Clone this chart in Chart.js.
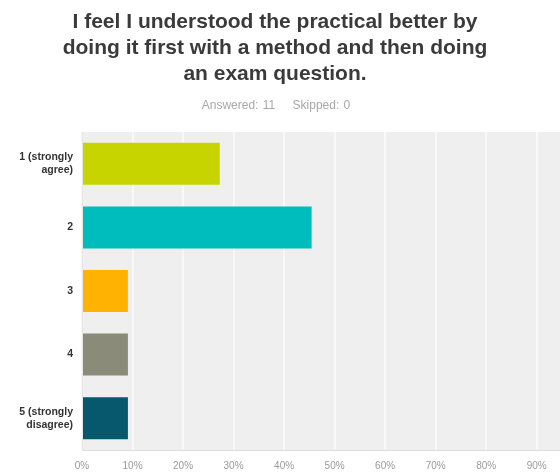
<!DOCTYPE html>
<html>
<head>
<meta charset="utf-8">
<script src="https://cdn.jsdelivr.net/npm/chart.js@4/dist/chart.umd.min.js"></script>
<style>
  html, body { margin: 0; padding: 0; background: #fff; overflow: hidden; width: 560px; height: 475px; }
  #wrap { position: relative; width: 560px; height: 475px; overflow: hidden; }
  #title {
    position: absolute; left: 0; top: 8px; width: 550px; text-align: center;
    font: bold 21px "Liberation Sans", Arial, sans-serif; line-height: 26px; color: #3a3a3a;
  }
  #sub {
    position: absolute; left: 0; top: 98px; width: 552px; text-align: center;
    font: 12px "Liberation Sans", Arial, sans-serif; color: #a8a8a8; word-spacing: 1px;
  }
  #box { position: absolute; left: 0; top: 0; width: 610px; height: 486px; }
</style>
</head>
<body>
<div id="wrap">
  <div id="box"><canvas id="surveyChart"></canvas></div>
  <div id="title">I feel I understood the practical better by<br>doing it first with a method and then doing<br>an exam question.</div>
  <div id="sub">Answered: 11&nbsp;&nbsp;&nbsp;&nbsp;Skipped: 0</div>
</div>
<script>
// answer options (multi-line labels)
var answerLabels = [
    ['1 (strongly', 'agree)'],
    '2',
    '3',
    '4',
    ['5 (strongly', 'disagree)']
];
// share of respondents, percent
var answerShare = [27.27, 45.45, 9.09, 9.09, 9.09];
var barColors = ['#c8d400', '#00bdbd', '#ffb300', '#8a8b79', '#07586c'];
var xTicks = [0, 10, 20, 30, 40, 50, 60, 70, 80, 90, 100];

// grey plot background behind the bars
var plotBg = {
    id: 'plotBg',
    beforeDraw: function (chart) {
        var a = chart.chartArea, c = chart.ctx;
        c.save();
        c.fillStyle = '#efefef';
        c.fillRect(a.left, a.top, a.right - a.left, a.bottom - a.top);
        c.restore();
    }
};

document.addEventListener('DOMContentLoaded', function () {
    var ctx = document.getElementById('surveyChart').getContext('2d');

    new Chart(ctx, {
        type: 'bar',
        data: {
            labels: answerLabels,
            datasets: [{
                data: answerShare,
                backgroundColor: barColors,
                borderWidth: 0,
                barPercentage: 0.66,
                categoryPercentage: 1
            }]
        },
        options: {
            indexAxis: 'y',
            responsive: true,
            maintainAspectRatio: false,
            animation: false,
            layout: { padding: { top: 132, left: 10, right: 0, bottom: 4 } },
            plugins: {
                legend: { display: false },
                tooltip: { enabled: false }
            },
            scales: {
                x: {
                    min: 0,
                    max: 100,
                    afterBuildTicks: function (s) {
                        s.ticks = xTicks.map(function (v) { return { value: v }; });
                    },
                    ticks: {
                        padding: 10,
                        color: '#9a9a9a',
                        font: { family: '"Liberation Sans", Arial, sans-serif', size: 10 },
                        callback: function (value) { return value + '%'; }
                    },
                    grid: {
                        drawTicks: false,
                        color: '#f8f8f8',
                        lineWidth: 2
                    },
                    border: { display: true, color: '#dcdcdc', width: 1 }
                },
                y: {
                    afterFit: function (s) { s.width = 72; },
                    ticks: {
                        padding: 9,
                        color: '#333',
                        font: { family: '"Liberation Sans", Arial, sans-serif', size: 10.5, weight: 'bold', lineHeight: 1.25 }
                    },
                    grid: { display: false, drawTicks: false },
                    border: { display: true, color: '#e6e6e6', width: 1 }
                }
            }
        },
        plugins: [plotBg]
    });
});
</script>
</body>
</html>
